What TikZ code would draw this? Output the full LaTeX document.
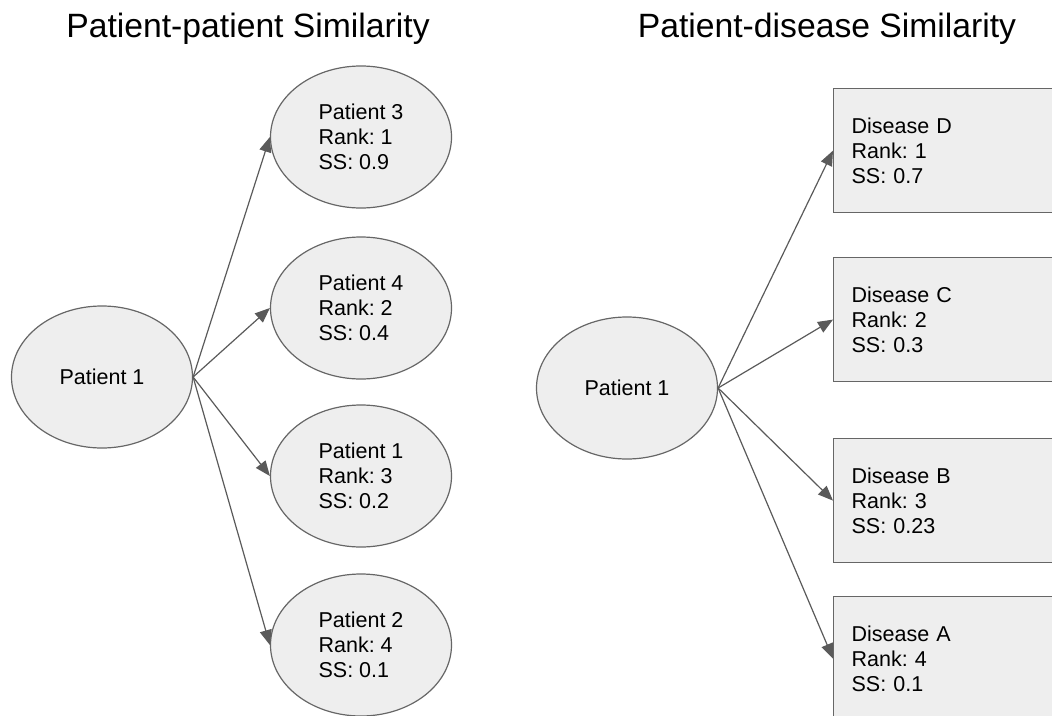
\documentclass[tikz,border=0pt]{standalone}
\usepackage{fontspec}
\setmainfont{Liberation Sans}
\usetikzlibrary{shapes.geometric,arrows.meta}
\definecolor{shapefill}{RGB}{238,238,238}
\definecolor{shapeline}{RGB}{102,102,102}
\definecolor{arrowgray}{RGB}{90,90,90}

\begin{document}
\begin{tikzpicture}[x=1pt, y=-1pt,
	title/.style={anchor=base, font=\fontsize{33.7}{40}\selectfont},
	patient/.style={ellipse, draw=shapeline, fill=shapefill, line width=1.2pt,
		minimum width=181pt, minimum height=142pt, inner sep=0pt, align=left,
		font=\fontsize{21.5}{25}\selectfont\frenchspacing},
	disease/.style={rectangle, draw=shapeline, fill=shapefill, line width=1.2pt,
		anchor=north west, minimum height=124pt, text width=215pt, inner xsep=18pt,
		align=left, font=\fontsize{21.5}{25}\selectfont\frenchspacing},
	link/.style={draw=arrowgray, line width=1.2pt, -{Triangle[length=15pt,width=12pt]}}]
		\useasboundingbox (0,0) rectangle (1052,715);
		\clip (0,0) rectangle (1052,715);
		\node[title] (pptitle) at (248,37) {Patient-patient Similarity};
		\node[title] (pdtitle) at (827,37) {Patient-disease Similarity};
		% patient-patient
		\node[patient] (ppsrc) at (102,377) {Patient 1};
		\node[patient] (ppt3) at (361,137) {Patient 3\\Rank: 1\\SS: 0.9};
		\node[patient] (ppt4) at (361,308) {Patient 4\\Rank: 2\\SS: 0.4};
		\node[patient] (ppt1) at (361,476) {Patient 1\\Rank: 3\\SS: 0.2};
		\node[patient] (ppt2) at (361,645) {Patient 2\\Rank: 4\\SS: 0.1};
		\foreach \t in {ppt3,ppt4,ppt1,ppt2}{
		  \draw[link] (ppsrc.east) -- (\t.west);
		}
		% patient-disease
		\node[patient] (pdsrc) at (627,388) {Patient 1};
		\node[disease] (disD) at (833,88) {Disease D\\Rank: 1\\SS: 0.7};
		\node[disease] (disC) at (833,257) {Disease C\\Rank: 2\\SS: 0.3};
		\node[disease] (disB) at (833,438) {Disease B\\Rank: 3\\SS: 0.23};
		\node[disease] (disA) at (833,596) {Disease A\\Rank: 4\\SS: 0.1};
		\foreach \t in {disD,disC,disB,disA}{
		  \draw[link] (pdsrc.east) -- (\t.west);
		}
\end{tikzpicture}
\end{document}
